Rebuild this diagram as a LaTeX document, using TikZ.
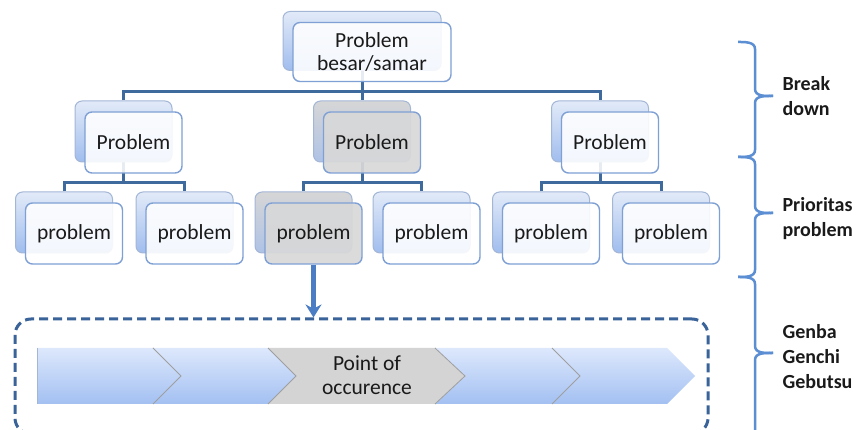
\documentclass[tikz,border=0pt]{standalone}
\usepackage{fontspec}
\setmainfont{Carlito}
\usetikzlibrary{arrows.meta,backgrounds}
\definecolor{TreeInk}{HTML}{1A1A1A}
\definecolor{TreeLink}{HTML}{3E6A9E}
\definecolor{CardEdge}{HTML}{A3B6D6}
\definecolor{CardFrontEdge}{HTML}{7FA0D4}
\definecolor{CardTop}{HTML}{E2EAF8}
\definecolor{CardBot}{HTML}{A0BDEE}
\definecolor{HotTop}{HTML}{D6D6D6}
\definecolor{HotBot}{HTML}{AEC2E6}
\definecolor{HotFront}{HTML}{D8D8D8}
\definecolor{ChevTop}{HTML}{DDE8FC}
\definecolor{ChevBot}{HTML}{A3C0F2}
\definecolor{ChevGray}{HTML}{D4D4D4}
\definecolor{ZoneDash}{HTML}{3A6399}
\definecolor{DrillBlue}{HTML}{4A7DC4}
\definecolor{BraceBlue}{HTML}{5B8ED3}
\tikzset{
  every node/.style={text=TreeInk},
  back/.style={draw=CardEdge, line width=1pt, rounded corners=7pt, minimum width=97pt, minimum height=61pt, inner sep=0pt},
  back-plain/.style={top color=CardTop, bottom color=CardBot},
  back-hot/.style={top color=HotTop, bottom color=HotBot},
  front/.style={draw=CardFrontEdge, line width=1.4pt, rounded corners=7pt, minimum width=97pt, minimum height=61pt, inner sep=0pt,
    align=center, font=\fontsize{21.5}{23}\selectfont, text opacity=1},
  front-plain/.style={fill=white, fill opacity=0.88},
  front-hot/.style={fill=HotFront, fill opacity=0.92},
  link/.style={draw=TreeLink, line width=3pt},
  drill/.style={-{Stealth[length=13pt,width=16pt]}, draw=DrillBlue, line width=4.5pt},
  zone/.style={draw=ZoneDash, line width=3pt, dash pattern=on 9pt off 5pt, rounded corners=16pt, minimum width=693pt, minimum height=115pt},
  notch/.style={draw=gray!75, line width=0.8pt},
  curly/.style={draw=BraceBlue, line width=2.5pt},
  stage/.style={anchor=west, align=left, font=\fontsize{20}{25}\selectfont\bfseries},
}
% card: back sheet plus front sheet shifted down right
\newcommand{\pcard}[4]{%
  \node[back,back-#4] (#1) at (#2) {};
  \node[front,front-#4] (#1-f) at ([shift={(10,-11)}]#1) {#3};
}
\begin{document}
\begin{tikzpicture}[x=1pt,y=1pt]
  \path[use as bounding box] (0,0) rectangle (861,430);
  \clip (0,0) rectangle (861,430);
  % Tree of problems
  \node[back,back-plain,minimum width=158pt,minimum height=59pt] (besar) at (362,389) {};
  \node[front,front-plain,minimum width=158pt,minimum height=59pt] (besar-f) at ([shift={(10,-11)}]besar) {Problem\\besar/samar};
  \pcard{pL}{123.5,298.5}{Problem}{plain}
  \pcard{pM}{362,298.5}{Problem}{hot}
  \pcard{pR}{600,298.5}{Problem}{plain}
  \pcard{pLa}{64,207.5}{problem}{plain}
  \pcard{pLb}{184.5,207.5}{problem}{plain}
  \pcard{pMa}{303.5,207.5}{problem}{hot}
  \pcard{pMb}{421.5,207.5}{problem}{plain}
  \pcard{pRa}{541,207.5}{problem}{plain}
  \pcard{pRb}{661,207.5}{problem}{plain}
  \coordinate (bar1) at (0,338);
  \coordinate (bar2) at (0,247);
  \begin{pgfonlayer}{background}
    \fill[white] (0,0) rectangle (861,430);
    \draw[link] (besar.south) -- (pM.north);
    \draw[link] (pL.north) -- (pL.north |- bar1) -- (pR.north |- bar1) -- (pR.north);
    \foreach \p/\a/\b in {pL/pLa/pLb, pM/pMa/pMb, pR/pRa/pRb}{
      \draw[link] (\p.south) -- (\p.south |- bar2);
      \draw[link] (\a.north) -- (\a.north |- bar2) -- (\b.north |- bar2) -- (\b.north);
    }
  \end{pgfonlayer}
  % Gemba zone
  \node[zone] (gemba) at (361.5,53.5) {};
  \draw[drill] (pMa-f.south) -- (pMa-f.south |- gemba.north);
  % Process chevrons
  \shade[top color=ChevTop, bottom color=ChevBot] (37,82) -- (153,82) -- (181,54) -- (153,26) -- (37,26) -- cycle;
  \foreach \l/\r in {153/268, 435/552, 552/667}
    \shade[top color=ChevTop, bottom color=ChevBot] (\l,82) -- (\r,82) -- (\r+28,54) -- (\r,26) -- (\l,26) -- (\l+28,54) -- cycle;
  \fill[ChevGray] (268,82) -- (435,82) -- (465,54) -- (435,26) -- (268,26) -- (296,54) -- cycle;
  \draw[draw=CardEdge, line width=0.8pt] (37,82) -- (37,26);
  \foreach \r/\t in {153/181, 268/296, 435/465, 552/580}
    \draw[notch] (\r,82) -- (\t,54) -- (\r,26);
  \node[align=center, font=\fontsize{21.5}{24}\selectfont] (occur) at (367,55) {Point of\\occurence};
  % Braces
  \foreach \ya/\ym/\yb in {388/334/273, 273/217/153, 153/77/-10}{
    \draw[curly] (738,\ya) to[out=0,in=90] (755,\ya-7) -- (755,\ym+7) to[out=-90,in=180] (773,\ym);
    \draw[curly] (773,\ym) to[out=180,in=90] (755,\ym-7) -- (755,\yb+7) to[out=-90,in=0] (738,\yb);
  }
  \node[stage] (brk) at (779,334) {Break\\down};
  \node[stage] (prio) at (779,211) {Prioritas\\problem};
  \node[stage] (gg) at (779,73) {Genba\\Genchi\\Gebutsu};
\end{tikzpicture}
\end{document}
